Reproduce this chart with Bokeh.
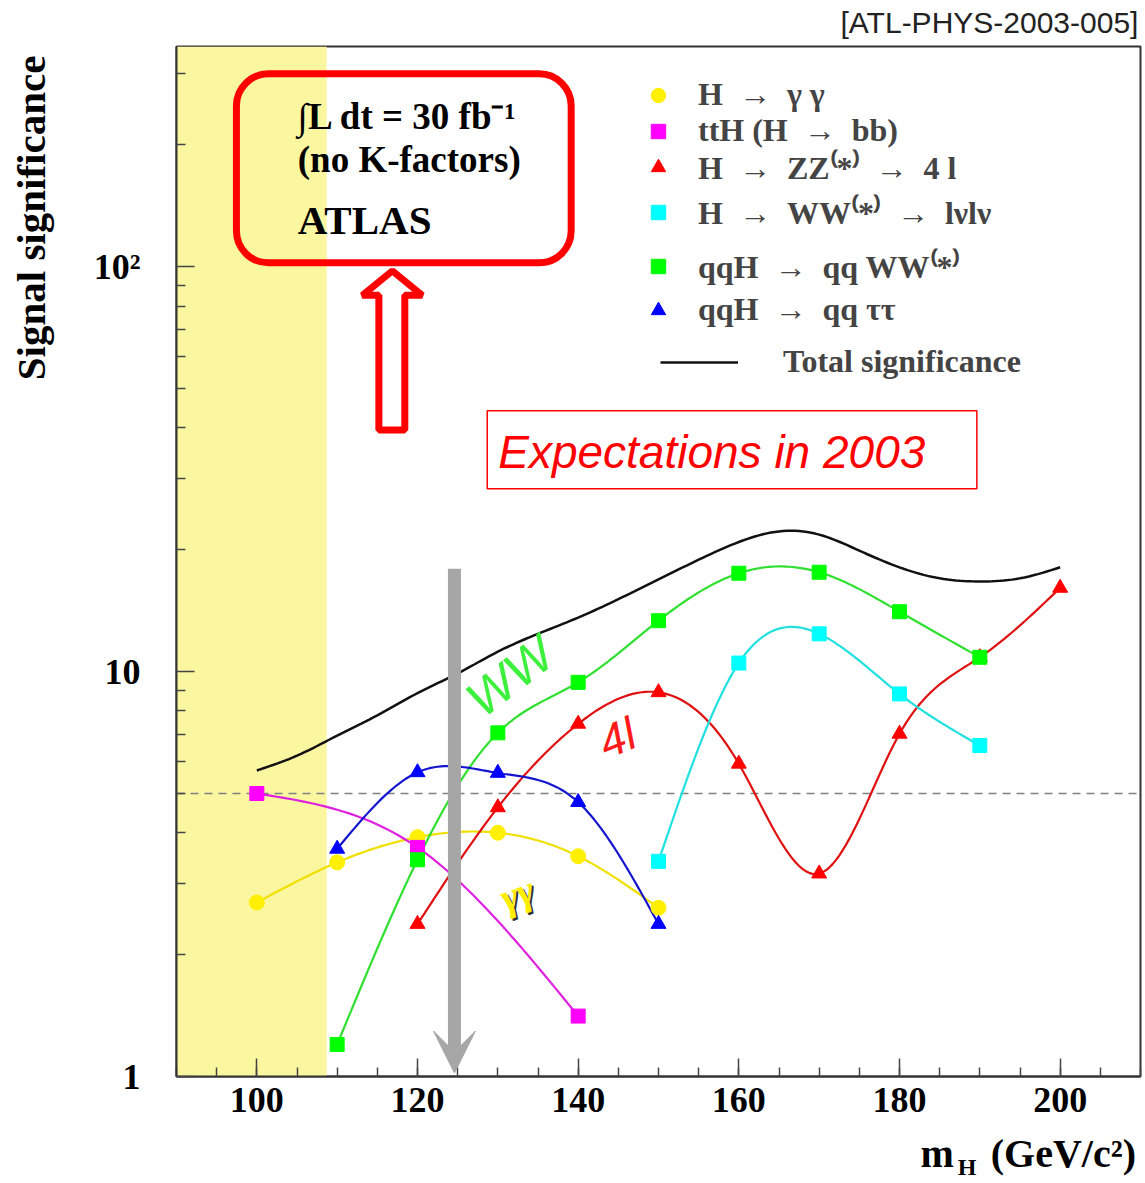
import numpy as np
from bokeh.plotting import figure
from bokeh.models import (Range1d, FixedTicker, Label, BoxAnnotation, Span, Arrow,
                          VeeHead, PolyAnnotation, Legend, LegendItem, LinearAxis, LogAxis)
from bokeh.embed import file_html
from bokeh.resources import INLINE

# ---------------- data ----------------
mass_gg = [100, 110, 120, 130, 140, 150]
sig_gg = [2.69, 3.38, 3.90, 4.00, 3.50, 2.61]

mass_tth = [100, 120, 140]
sig_tth = [5.0, 3.68, 1.41]

mass_zz = [120, 130, 140, 150, 160, 170, 180, 190, 200]
sig_zz = [2.38, 4.62, 7.43, 8.89, 5.92, 3.17, 7.02, 10.85, 16.1]

mass_ww = [150, 160, 170, 180, 190]
sig_ww = [3.40, 10.5, 12.4, 8.81, 6.57]

mass_qqww = [110, 120, 130, 140, 150, 160, 170, 180, 190]
sig_qqww = [1.20, 3.43, 7.06, 9.41, 13.36, 17.5, 17.6, 14.06, 10.85]

mass_qqtt = [110, 120, 130, 140, 150]
sig_qqtt = [3.65, 5.64, 5.62, 4.76, 2.38]

mass_tot = [100, 105, 110, 115, 120, 125, 130, 135, 140, 145, 150, 155, 160, 165,
            170, 175, 180, 185, 190, 195, 200]
sig_tot = [5.7, 6.2, 6.95, 7.8, 8.85, 9.9, 11.2, 12.4, 13.6, 15.1, 16.9, 18.9, 20.9, 22.2,
           21.8, 19.9, 18.1, 17.0, 16.7, 17.0, 18.1]

x_major = [100, 120, 140, 160, 180, 200]
x_labels = ["100", "120", "140", "160", "180", "200"]
y_major = [1, 10, 100]
y_labels = ["1", "10", "10²"]
discovery_level = 5.0
lep_limit = 108.7
mh_marker = 124.6

FONT_SERIF = "Liberation Serif"
FONT_SANS = "Liberation Sans"


def smooth(xv, yv, n=24):
    """Natural cubic spline through the points in (x, log y) space (ROOT 'C' style)."""
    x = np.asarray(xv, float)
    y = np.log10(np.asarray(yv, float))
    m = len(x)
    h = np.diff(x)
    A = np.zeros((m, m))
    b = np.zeros(m)
    A[0, 0] = A[-1, -1] = 1.0
    for i in range(1, m - 1):
        A[i, i - 1] = h[i - 1]
        A[i, i] = 2 * (h[i - 1] + h[i])
        A[i, i + 1] = h[i]
        b[i] = 6 * ((y[i + 1] - y[i]) / h[i] - (y[i] - y[i - 1]) / h[i - 1])
    M = np.linalg.solve(A, b)
    xs, ys = [], []
    for i in range(m - 1):
        t = np.linspace(x[i], x[i + 1], n, endpoint=(i == m - 2))
        a = x[i + 1] - t
        c = t - x[i]
        s = (M[i] * a ** 3 / (6 * h[i]) + M[i + 1] * c ** 3 / (6 * h[i])
             + (y[i] / h[i] - M[i] * h[i] / 6) * a + (y[i + 1] / h[i] - M[i + 1] * h[i] / 6) * c)
        xs.extend(t.tolist())
        ys.extend((10 ** s).tolist())
    return xs, ys


p = figure(width=1145, height=1183, x_range=Range1d(90, 210), y_range=Range1d(1, 350),
           y_axis_type="log", output_backend="svg", toolbar_location=None,
           min_border_left=176, min_border_right=5, min_border_top=46, min_border_bottom=107)
p.background_fill_color = "white"
p.border_fill_color = "white"
p.outline_line_color = "#333333"
p.outline_line_width = 2
p.xgrid.visible = False
p.ygrid.visible = False

# axes
p.xaxis.ticker = FixedTicker(ticks=x_major, minor_ticks=list(range(90, 211, 5)))
p.xaxis.major_label_overrides = {v: s for v, s in zip(x_major, x_labels)}
p.yaxis.ticker = FixedTicker(ticks=y_major,
                             minor_ticks=[2, 3, 4, 5, 6, 7, 8, 9, 20, 30, 40, 50, 60, 70, 80, 90, 200, 300])
p.yaxis.major_label_overrides = {v: s for v, s in zip(y_major, y_labels)}
for ax in (p.xaxis[0], p.yaxis[0]):
    ax.major_tick_in = 18
    ax.major_tick_out = 0
    ax.minor_tick_in = 9
    ax.minor_tick_out = 0
    ax.major_tick_line_color = "#444444"
    ax.minor_tick_line_color = "#444444"
    ax.major_tick_line_width = 1.5
    ax.minor_tick_line_width = 1.5
    ax.axis_line_color = "#333333"
    ax.axis_line_width = 2
    ax.major_label_text_font = FONT_SERIF
    ax.major_label_text_font_style = "bold"
    ax.major_label_text_font_size = "36px"
    ax.major_label_text_color = "black"
p.xaxis.major_label_standoff = 11
p.yaxis.major_label_standoff = 36


def title_axis(cls, ticks, labels, size, font, style, standoff, color="black", orientation="horizontal"):
    ax = cls(ticker=FixedTicker(ticks=ticks),
             major_label_overrides={t: s for t, s in zip(ticks, labels)},
             axis_line_color=None, major_tick_line_color=None, minor_tick_line_color=None,
             major_tick_in=0, major_tick_out=0, minor_tick_in=0, minor_tick_out=0,
             major_label_standoff=standoff, major_label_orientation=orientation,
             major_label_text_font=font, major_label_text_font_style=style,
             major_label_text_font_size=size, major_label_text_color=color)
    return ax


# axis titles (drawn as labels of extra, line-less axes so they sit outside the frame)
p.add_layout(title_axis(LogAxis, [132], ["Signal significance"], "41px", FONT_SERIF, "bold", 36,
                        orientation="parallel"), "left")
p.add_layout(title_axis(LinearAxis, [184.7, 200.4], ["m", "(GeV/c²)"], "40px", FONT_SERIF, "bold", 16),
             "below")
p.add_layout(title_axis(LinearAxis, [188.4], ["H"], "24px", FONT_SERIF, "bold", -25), "below")
p.add_layout(title_axis(LinearAxis, [191.2], ["[ATL-PHYS-2003-005]"], "30px", FONT_SANS, "normal", 8,
                        color="#222222"), "above")

# excluded (LEP) region and 5 sigma line
p.add_layout(BoxAnnotation(right=lep_limit, fill_color="#FAF7A0", fill_alpha=1.0,
                           line_color=None, level="underlay"))
p.add_layout(Span(location=discovery_level, dimension="width", line_color="#808080",
                  line_width=1.5, line_dash="8 6", level="underlay"))

series = [
    (mass_gg, sig_gg, "circle", "#FFF000", "#F0E000", 15),
    (mass_tth, sig_tth, "square", "#FF00FF", "#E020E0", 14),
    (mass_zz, sig_zz, "triangle", "#FF0000", "#E01010", 15),
    (mass_ww, sig_ww, "square", "#00FFFF", "#20E0E0", 14),
    (mass_qqww, sig_qqww, "square", "#00FF00", "#30E030", 14),
    (mass_qqtt, sig_qqtt, "triangle", "#0000FF", "#1515D0", 15),
]
marker_renderers = []
for xv, yv, mk, col, lcol, sz in series:
    sx, sy = smooth(xv, yv)
    p.line(sx, sy, line_color=lcol, line_width=2.2)
for xv, yv, mk, col, lcol, sz in series:
    r = p.scatter(xv, yv, marker=mk, size=sz, fill_color=col, line_color=col)
    marker_renderers.append(r)

tx, ty = smooth(mass_tot, sig_tot, n=10)
r_tot = p.line(tx, ty, line_color="#111111", line_width=2.5)

# Higgs mass arrow
p.add_layout(Arrow(x_start=mh_marker, y_start=17.96, x_end=mh_marker, y_end=1.02,
                   line_color="#A6A6A6", line_width=13,
                   end=VeeHead(size=42, fill_color="#A6A6A6", line_color="#A6A6A6")))

# legend (one block per entry to reproduce the uneven row spacing)
legend_labels = ["H\u2002→\u2002γ γ", "ttH (H\u2002→\u2002bb)", "H\u2002→\u2002ZZ⁽*⁾\u2002→\u20024 l",
                 "H\u2002→\u2002WW⁽*⁾\u2002→\u2002lνlν", "qqH\u2002→\u2002qq WW⁽*⁾",
                 "qqH\u2002→\u2002qq ττ"]
row_centers = [95, 131, 170, 215, 269, 310]
frame_left, frame_bottom = 176, 1076
for lab, r, yc in zip(legend_labels, marker_renderers, row_centers):
    leg = Legend(items=[LegendItem(label=lab, renderers=[r])],
                 location=(640 - frame_left, frame_bottom - (yc + 18)),
                 glyph_width=36, glyph_height=36, label_height=36, label_standoff=22,
                 padding=0, margin=0, spacing=0, border_line_color=None,
                 background_fill_alpha=0, label_text_font=FONT_SERIF,
                 label_text_font_style="bold", label_text_font_size="32px")
    p.add_layout(leg)
leg = Legend(items=[LegendItem(label="Total significance", renderers=[r_tot])],
             location=(660 - frame_left, frame_bottom - (362 + 18)),
             glyph_width=78, glyph_height=36, label_height=36, label_standoff=45,
             padding=0, margin=0, spacing=0, border_line_color=None,
             background_fill_alpha=0, label_text_font=FONT_SERIF,
             label_text_font_style="bold", label_text_font_size="32px")
p.add_layout(leg)

# ATLAS box
p.add_layout(BoxAnnotation(left=97.46, right=139.13, bottom=102.3, top=299.7,
                           fill_alpha=0, line_color="#FF0000", line_alpha=1.0, line_width=7,
                           border_radius=32))
for txt, yy, fs in [("∫L dt = 30 fb⁻¹", 234.6, "37px"), ("(no K-factors)", 183.8, "37px"),
                    ("ATLAS", 130.6, "41px")]:
    p.add_layout(Label(x=105.1, y=yy, text=txt, text_font=FONT_SERIF, text_font_style="bold",
                       text_font_size=fs, text_color="black", text_baseline="middle"))

# hollow red arrow
p.add_layout(PolyAnnotation(xs=[116.87, 120.60, 118.42, 118.42, 115.19, 115.19, 113.13],
                            ys=[97.7, 85.0, 85.0, 39.5, 39.5, 85.0, 85.0],
                            fill_color="white", fill_alpha=1.0, line_color="#FF0000",
                            line_alpha=1.0, line_width=7))

# "Expectations in 2003"
p.add_layout(BoxAnnotation(left=128.68, right=189.63, bottom=28.3, top=44.1,
                           fill_alpha=0, line_color="#FF0000", line_alpha=1.0, line_width=1.5))
p.add_layout(Label(x=130.05, y=34.93, text="Expectations in 2003", text_font=FONT_SANS,
                   text_font_style="italic", text_font_size="46px", text_color="#FF0000",
                   text_baseline="middle"))

# channel annotations
p.add_layout(Label(x=131.54, y=9.72, text="WW", text_font=FONT_SANS, text_font_style="italic",
                   text_font_size="50px", text_color="#3CF03C", angle=0.66,
                   text_align="center", text_baseline="middle"))
p.add_layout(Label(x=144.85, y=6.87, text="4l", text_font=FONT_SANS, text_font_style="italic",
                   text_font_size="46px", text_color="#FF1A1A", angle=0.38,
                   text_align="center", text_baseline="middle"))
p.add_layout(Label(x=132.41, y=2.83, text="γγ", text_font=FONT_SERIF, text_font_style="bold italic",
                   text_font_size="40px", text_color="#333333", angle=0.35,
                   text_align="center", text_baseline="middle", x_offset=2, y_offset=-2))
p.add_layout(Label(x=132.41, y=2.83, text="γγ", text_font=FONT_SERIF, text_font_style="bold italic",
                   text_font_size="40px", text_color="#FFEE00", angle=0.35,
                   text_align="center", text_baseline="middle"))

open("out.html", "w").write(file_html(p, INLINE))
